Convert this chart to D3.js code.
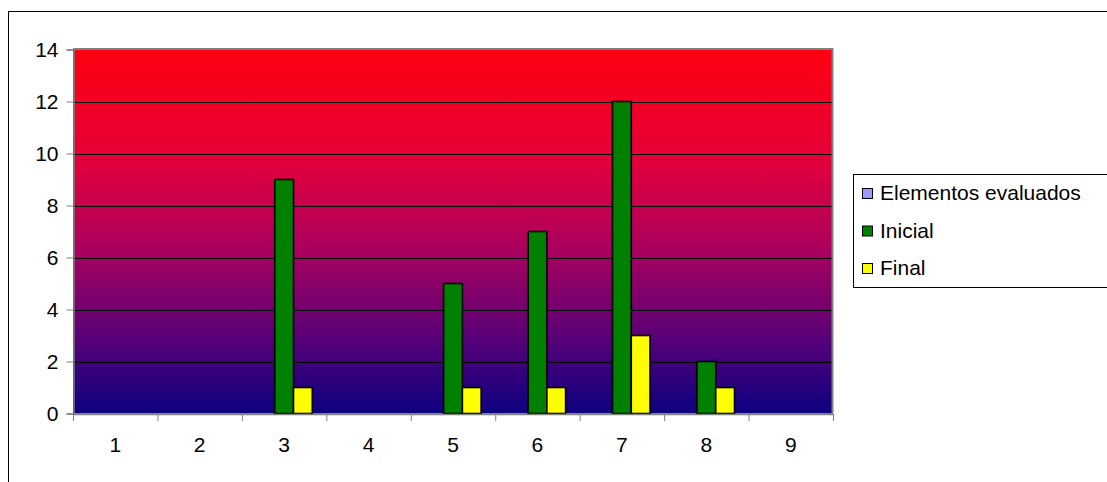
<!DOCTYPE html>
<html>
<head>
<meta charset="utf-8">
<script src="https://cdn.jsdelivr.net/npm/d3@7"></script>
<style>
  body { margin: 0; background: #fff; }
  text { font-family: "Liberation Sans", Arial, sans-serif; fill: #000; }
</style>
</head>
<body>
<div id="chart"></div>
<script>
// data
var categories = ["1", "2", "3", "4", "5", "6", "7", "8", "9"];
var seriesNames = ["Elementos evaluados", "Inicial", "Final"];
var elementos = [null, null, null, null, null, null, null, null, null];
var inicial = [null, null, 9, null, 5, 7, 12, 2, null];
var final = [null, null, 1, null, 1, 1, 3, 1, null];
var yTicks = [0, 2, 4, 6, 8, 10, 12, 14];
var colors = ["#9999ff", "#008000", "#ffff00"];

var width = 1107, height = 482;
var svg = d3.select("#chart").append("svg")
    .attr("width", width)
    .attr("height", height);

// outer chart border
svg.append("rect")
    .attr("x", 8.5).attr("y", 11.5)
    .attr("width", 1200).attr("height", 600)
    .attr("fill", "#fff")
    .attr("stroke", "#000");

var pLeft = 73, pRight = 833, pTop = 49.5, pBottom = 413.5;
var fontSize = "21px";

var x = d3.scaleBand().domain(categories).range([pLeft, pRight]);
var y = d3.scaleLinear().domain([0, 14]).range([pBottom, pTop]);

var grad = svg.append("defs").append("linearGradient")
    .attr("id", "bg")
    .attr("x1", "0%").attr("y1", "0%")
    .attr("x2", "0%").attr("y2", "100%");
[[0, "#ff0010"], [0.3, "#e4003a"], [0.55, "#aa005e"], [0.8, "#560078"], [1, "#0c0080"]]
    .forEach(function (s) {
        grad.append("stop").attr("offset", s[0]).attr("stop-color", s[1]);
    });

svg.append("rect")
    .attr("x", pLeft).attr("y", pTop)
    .attr("width", pRight - pLeft).attr("height", pBottom - pTop)
    .attr("fill", "url(#bg)");

// gridlines
svg.append("g").selectAll("line")
    .data(yTicks.filter(function (d) { return d > 0 && d < 14; }))
    .enter().append("line")
    .attr("x1", pLeft).attr("x2", pRight)
    .attr("y1", function (d) { return Math.round(y(d)) + 0.5; })
    .attr("y2", function (d) { return Math.round(y(d)) + 0.5; })
    .attr("stroke", "#000");

// plot border top / right
svg.append("path")
    .attr("d", "M" + pLeft + "," + (pTop - 0.5) + "H" + (pRight - 0.5) + "V" + pBottom)
    .attr("fill", "none")
    .attr("stroke", "#808080")
    .attr("stroke-width", 2);

// bars
var bw = x.bandwidth() / 4.5;
var series = [elementos, inicial, final];
series.forEach(function (vals, si) {
    svg.append("g").selectAll("rect")
        .data(vals.map(function (v, i) { return { c: categories[i], v: v }; })
            .filter(function (d) { return d.v != null; }))
        .enter().append("rect")
        .attr("x", function (d) { return x(d.c) + bw * 0.75 + si * bw; })
        .attr("y", function (d) { return y(d.v); })
        .attr("width", bw)
        .attr("height", function (d) { return pBottom - y(d.v); })
        .attr("fill", colors[si])
        .attr("stroke", "#000")
        .attr("stroke-width", 1.6);
});

// y axis
var yAxis = svg.append("g")
    .attr("transform", "translate(" + (pLeft + 0.5) + ",0)")
    .call(d3.axisLeft(y).tickValues(yTicks).tickSize(7).tickPadding(8));
yAxis.select(".domain").attr("stroke", "#808080").attr("stroke-width", 1.5);
yAxis.selectAll(".tick line").attr("stroke", "#808080");
yAxis.selectAll("text").style("font-size", fontSize).style("font-family", "Liberation Sans, Arial, sans-serif");

// x axis
var xAxis = svg.append("g")
    .attr("transform", "translate(0," + (pBottom + 0.5) + ")")
    .call(d3.axisBottom(x).tickSize(0).tickPadding(23));
xAxis.select(".domain").attr("stroke", "#808080").attr("stroke-width", 1.5);
xAxis.selectAll("text").style("font-size", fontSize).style("font-family", "Liberation Sans, Arial, sans-serif");
xAxis.selectAll(".edge").data(categories.concat(["end"]))
    .enter().append("line")
    .attr("class", "edge")
    .attr("x1", function (d, i) { return pLeft + i * x.step() + 0.5; })
    .attr("x2", function (d, i) { return pLeft + i * x.step() + 0.5; })
    .attr("y1", 0).attr("y2", 7)
    .attr("stroke", "#808080");

// legend
var legend = svg.append("g");
legend.append("rect")
    .attr("x", 853.5).attr("y", 174.5)
    .attr("width", 300).attr("height", 113)
    .attr("fill", "#fff")
    .attr("stroke", "#000");
var ly = d3.scalePoint().domain(seriesNames).range([193, 268]);
seriesNames.forEach(function (name, i) {
    legend.append("rect")
        .attr("x", 862.5).attr("y", ly(name) - 4.5)
        .attr("width", 10).attr("height", 10)
        .attr("fill", colors[i])
        .attr("stroke", "#000");
    legend.append("text")
        .attr("x", 880).attr("y", ly(name))
        .attr("dy", "0.35em")
        .style("font-size", fontSize)
        .text(name);
});
</script>
</body>
</html>
